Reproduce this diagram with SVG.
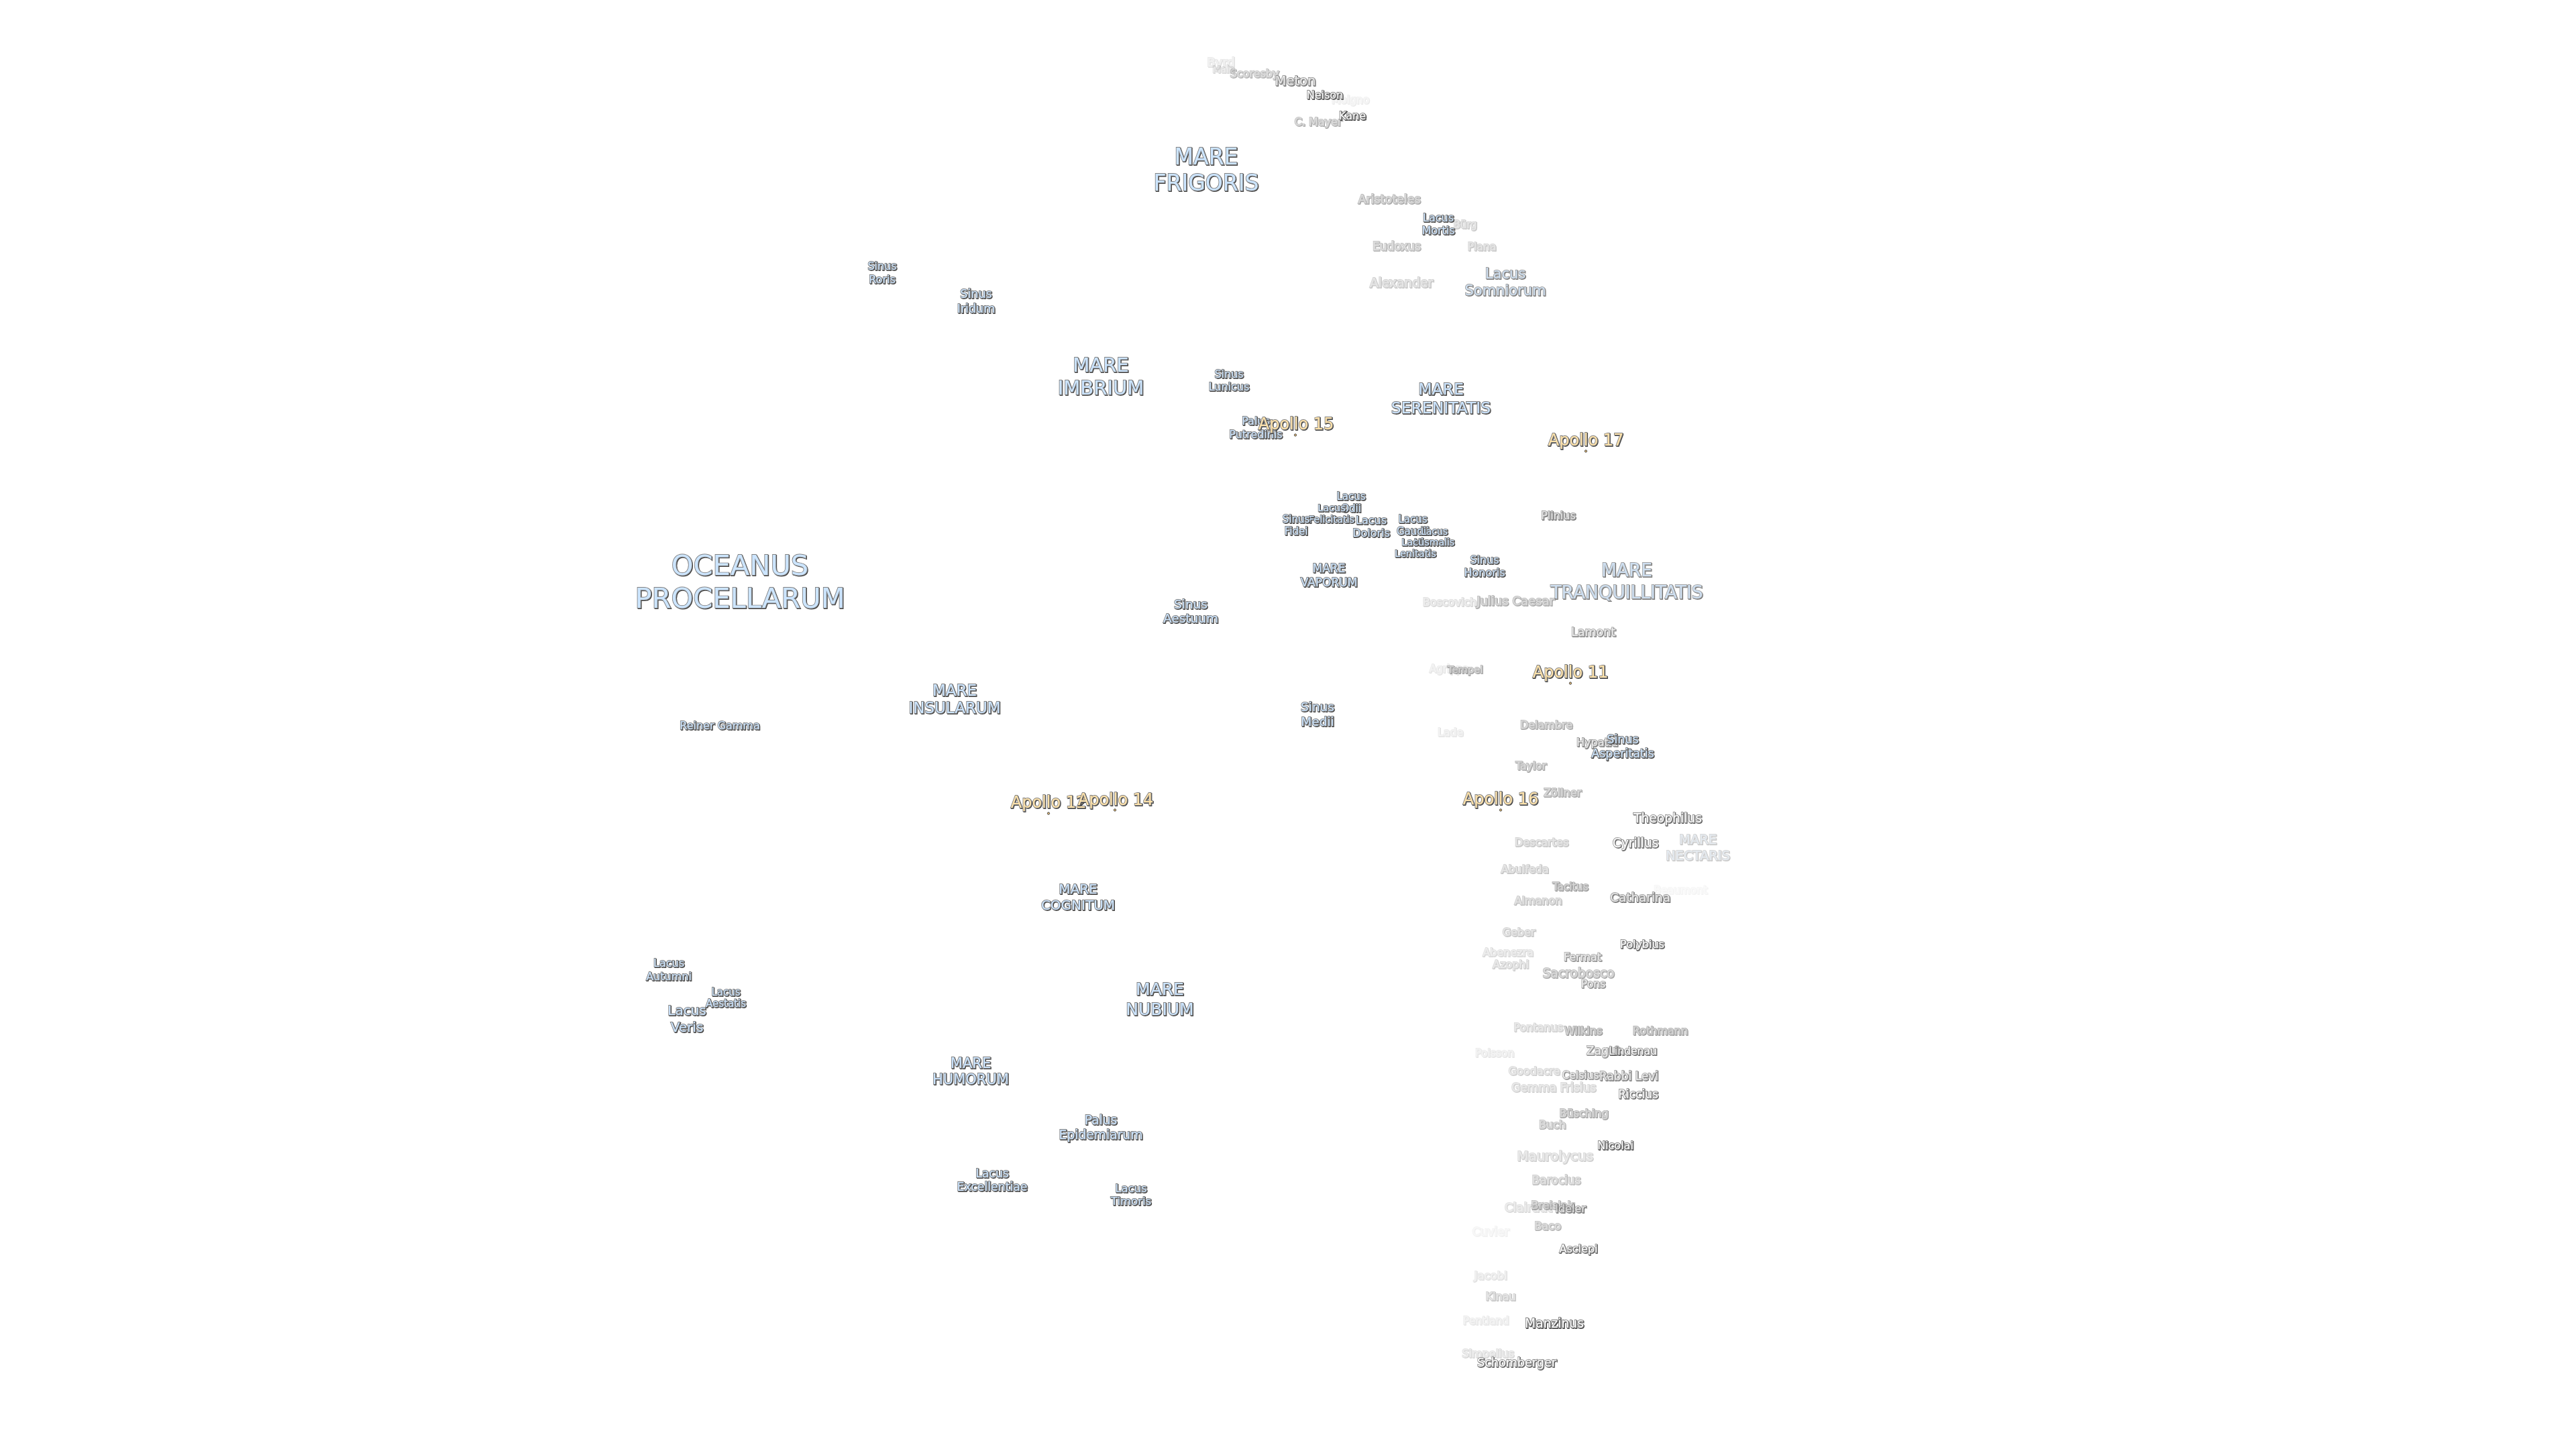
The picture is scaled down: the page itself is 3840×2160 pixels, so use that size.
<svg xmlns="http://www.w3.org/2000/svg" width="3840" height="2160" viewBox="0 0 3840 2160">
<defs>
<filter id="s" x="-20%" y="-40%" width="140%" height="180%"><feGaussianBlur in="SourceGraphic" stdDeviation="0.45" result="b"/><feOffset in="SourceAlpha" dx="1.4" dy="1.4"/><feGaussianBlur stdDeviation="0.5"/><feColorMatrix values="0 0 0 0 .05 0 0 0 0 .05 0 0 0 0 .05 0 0 0 1 0" result="d"/><feMerge><feMergeNode in="d"/><feMergeNode in="b"/></feMerge></filter>
</defs>
<style>
text{font-family:"DejaVu Sans",sans-serif;text-anchor:middle;stroke:#808080;stroke-width:1.8;paint-order:stroke;filter:url(#s)}
.m{fill:#cce5ff}
.n{fill:#a9bccf}
.t{fill:#bcd4ec}
.a{fill:#ffe3ab}
.c{fill:#fff}
.e{fill:#e2e2e2}
.f{fill:#b4b4b4}
circle{fill:#ffd080;stroke:#333;stroke-width:1}
</style>
<rect width="3840" height="2160" fill="#fff"/>
<g transform="translate(0,-0.5)">
<g id="byrd" opacity=".16"><text class="f" font-size="18" x="1820" y="99">Byrd</text></g>
<g id="main" opacity=".22"><text class="f" font-size="14" x="1824" y="108">Main</text></g>
<g id="scoresby" opacity=".42"><text class="f" font-size="16" x="1870" y="115">Scoresby</text></g>
<g id="meton" opacity=".75"><text class="e" font-size="19.5" x="1931" y="127">Meton</text></g>
<g id="neison" opacity=".95"><text class="c" font-size="16" x="1975" y="147">Neison</text></g>
<g id="moigno" opacity=".1"><text class="f" font-size="15.5" x="2013" y="154">Moigno</text></g>
<g id="c-mayer" opacity=".45"><text class="f" font-size="16" x="1965" y="187">C. Mayer</text></g>
<g id="kane"><text class="c" font-size="16" x="2016" y="178">Kane</text></g>
<g id="mare-frigoris"><text class="m" font-size="33"><tspan x="1798" y="245">MARE</tspan><tspan x="1798" y="284">FRIGORIS</tspan></text></g>
<g id="aristoteles" opacity=".48"><text class="f" font-size="17.5" x="2071" y="303">Aristoteles</text></g>
<g id="lacus-mortis"><text class="m" font-size="16"><tspan x="2144" y="330">Lacus</tspan><tspan x="2144" y="349">Mortis</tspan></text></g>
<g id="burg" opacity=".3"><text class="f" font-size="15" x="2184" y="340">Bürg</text></g>
<g id="eudoxus" opacity=".42"><text class="f" font-size="17" x="2082" y="373">Eudoxus</text></g>
<g id="plana" opacity=".32"><text class="f" font-size="15.6" x="2209" y="373">Plana</text></g>
<g id="alexander" opacity=".32"><text class="f" font-size="18.7" x="2089" y="428">Alexander</text></g>
<g id="lacus-somniorum" opacity=".72"><text class="t" font-size="21"><tspan x="2244" y="415">Lacus</tspan><tspan x="2244" y="440">Somniorum</tspan></text></g>
<g id="sinus-roris"><text class="m" font-size="16"><tspan x="1315" y="402">Sinus</tspan><tspan x="1315" y="422">Roris</tspan></text></g>
<g id="sinus-iridum"><text class="m" font-size="17.5"><tspan x="1455" y="444">Sinus</tspan><tspan x="1455" y="466">Iridum</tspan></text></g>
<g id="mare-imbrium"><text class="m" font-size="29"><tspan x="1641" y="554">MARE</tspan><tspan x="1641" y="588">IMBRIUM</tspan></text></g>
<g id="sinus-lunicus"><text class="m" font-size="16"><tspan x="1832" y="563">Sinus</tspan><tspan x="1832" y="582">Lunicus</tspan></text></g>
<g id="palus-putredinis"><text class="m" font-size="16"><tspan x="1872" y="633">Palus</tspan><tspan x="1872" y="653">Putredinis</tspan></text></g>
<g id="apollo-15"><text class="a" font-size="24" x="1932" y="640">Apollo 15</text><circle cx="1931" cy="649" r="1.6"/></g>
<g id="mare-serenitatis"><text class="m" font-size="23.5"><tspan x="2148" y="588">MARE</tspan><tspan x="2148" y="616">SERENITATIS</tspan></text></g>
<g id="apollo-17"><text class="a" font-size="24" x="2364" y="664">Apollo 17</text><circle cx="2364" cy="673" r="1.6"/></g>
<g id="lacus-odii"><text class="m" font-size="15"><tspan x="2014" y="745">Lacus</tspan><tspan x="2014" y="763">Odii</tspan></text></g>
<g id="lacus-felicitatis"><text class="m" font-size="14.5"><tspan x="1985" y="762">Lacus</tspan><tspan x="1985" y="779">Felicitatis</tspan></text></g>
<g id="sinus-fidei"><text class="m" font-size="15"><tspan x="1932" y="779">Sinus</tspan><tspan x="1932" y="797">Fidei</tspan></text></g>
<g id="lacus-doloris"><text class="m" font-size="16"><tspan x="2044" y="781">Lacus</tspan><tspan x="2044" y="800">Doloris</tspan></text></g>
<g id="lacus-gaudii"><text class="m" font-size="15"><tspan x="2106" y="779">Lacus</tspan><tspan x="2106" y="797">Gaudii</tspan></text></g>
<g id="lacus-hiemalis"><text class="m" font-size="14"><tspan x="2138" y="797">Lacus</tspan><tspan x="2138" y="813">Hiemalis</tspan></text></g>
<g id="lacus-lenitatis"><text class="m" font-size="14.5"><tspan x="2110" y="813">Lacus</tspan><tspan x="2110" y="830">Lenitatis</tspan></text></g>
<g id="sinus-honoris"><text class="m" font-size="16"><tspan x="2213" y="840">Sinus</tspan><tspan x="2213" y="859">Honoris</tspan></text></g>
<g id="plinius" opacity=".75"><text class="e" font-size="16" x="2323" y="774">Plinius</text></g>
<g id="mare-vaporum"><text class="m" font-size="17"><tspan x="1981" y="853">MARE</tspan><tspan x="1981" y="874">VAPORUM</tspan></text></g>
<g id="mare-tranquillitatis" opacity=".72"><text class="t" font-size="26.4"><tspan x="2425" y="859">MARE</tspan><tspan x="2425" y="892">TRANQUILLITATIS</tspan></text></g>
<g id="boscovich" opacity=".22"><text class="f" font-size="16" x="2161" y="903">Boscovich</text></g>
<g id="julius-caesar" opacity=".48"><text class="f" font-size="18" x="2259" y="902">Julius Caesar</text></g>
<g id="sinus-aestuum"><text class="m" font-size="18.5"><tspan x="1775" y="907">Sinus</tspan><tspan x="1775" y="928">Aestuum</tspan></text></g>
<g id="lamont" opacity=".65"><text class="e" font-size="17.5" x="2375" y="948">Lamont</text></g>
<g id="oceanus-procellarum"><text class="m" font-size="41.6"><tspan x="1103" y="857">OCEANUS</tspan><tspan x="1103" y="906">PROCELLARUM</tspan></text></g>
<g id="agrippa" opacity=".14"><text class="f" font-size="15" x="2160" y="1002">Agrippa</text></g>
<g id="tempel" opacity=".5"><text class="f" font-size="14.8" x="2184" y="1003">Tempel</text></g>
<g id="apollo-11"><text class="a" font-size="24" x="2341" y="1010">Apollo 11</text><circle cx="2341" cy="1019" r="1.6"/></g>
<g id="mare-insularum"><text class="m" font-size="23"><tspan x="1423" y="1037">MARE</tspan><tspan x="1423" y="1063">INSULARUM</tspan></text></g>
<g id="reiner-gamma"><text class="m" font-size="16" x="1073" y="1087">Reiner Gamma</text></g>
<g id="sinus-medii"><text class="m" font-size="18.5"><tspan x="1964" y="1060">Sinus</tspan><tspan x="1964" y="1082">Medii</tspan></text></g>
<g id="lade" opacity=".14"><text class="f" font-size="15.8" x="2162" y="1097">Lade</text></g>
<g id="delambre" opacity=".48"><text class="f" font-size="16" x="2305" y="1086">Delambre</text></g>
<g id="hypatia" opacity=".7"><text class="e" font-size="16" x="2381" y="1112">Hypatia</text></g>
<g id="sinus-asperitatis"><text class="m" font-size="17.5"><tspan x="2419" y="1108">Sinus</tspan><tspan x="2419" y="1129">Asperitatis</tspan></text></g>
<g id="taylor" opacity=".48"><text class="f" font-size="15.5" x="2282" y="1147">Taylor</text></g>
<g id="zollner" opacity=".48"><text class="f" font-size="16" x="2329" y="1187">Zöllner</text></g>
<g id="apollo-16"><text class="a" font-size="24" x="2237" y="1199">Apollo 16</text><circle cx="2237" cy="1208" r="1.6"/></g>
<g id="apollo-12"><text class="a" font-size="24" x="1563" y="1204">Apollo 12</text><circle cx="1563" cy="1213" r="1.6"/></g>
<g id="apollo-14"><text class="a" font-size="24" x="1663" y="1200">Apollo 14</text><circle cx="1662" cy="1208" r="1.6"/></g>
<g id="theophilus" opacity=".85"><text class="c" font-size="18.7" x="2486" y="1226">Theophilus</text></g>
<g id="cyrillus" opacity=".8"><text class="c" font-size="18.6" x="2438" y="1263">Cyrillus</text></g>
<g id="mare-nectaris" opacity=".3"><text class="n" font-size="19.5"><tspan x="2531" y="1258">MARE</tspan><tspan x="2531" y="1282">NECTARIS</tspan></text></g>
<g id="descartes" opacity=".32"><text class="f" font-size="16" x="2298" y="1261">Descartes</text></g>
<g id="abulfeda" opacity=".32"><text class="f" font-size="16" x="2273" y="1301">Abulfeda</text></g>
<g id="tacitus" opacity=".55"><text class="f" font-size="15.5" x="2341" y="1327">Tacitus</text></g>
<g id="almanon" opacity=".36"><text class="f" font-size="16" x="2293" y="1348">Almanon</text></g>
<g id="beaumont" opacity=".06"><text class="f" font-size="15.5" x="2505" y="1332">Beaumont</text></g>
<g id="catharina" opacity=".75"><text class="e" font-size="18.4" x="2445" y="1344">Catharina</text></g>
<g id="mare-cognitum"><text class="m" font-size="20"><tspan x="1607" y="1332">MARE</tspan><tspan x="1607" y="1356">COGNITUM</tspan></text></g>
<g id="geber" opacity=".32"><text class="f" font-size="16" x="2264" y="1395">Geber</text></g>
<g id="polybius" opacity=".85"><text class="c" font-size="16" x="2448" y="1413">Polybius</text></g>
<g id="fermat" opacity=".6"><text class="e" font-size="16" x="2359" y="1432">Fermat</text></g>
<g id="abenezra" opacity=".22"><text class="f" font-size="16" x="2248" y="1425">Abenezra</text></g>
<g id="azophi" opacity=".27"><text class="f" font-size="16" x="2252" y="1443">Azophi</text></g>
<g id="sacrobosco" opacity=".48"><text class="f" font-size="18.7" x="2353" y="1457">Sacrobosco</text></g>
<g id="pons" opacity=".6"><text class="e" font-size="15.6" x="2375" y="1472">Pons</text></g>
<g id="lacus-autumni"><text class="m" font-size="16"><tspan x="997" y="1441">Lacus</tspan><tspan x="997" y="1461">Autumni</tspan></text></g>
<g id="lacus-aestatis"><text class="m" font-size="15"><tspan x="1082" y="1484">Lacus</tspan><tspan x="1082" y="1501">Aestatis</tspan></text></g>
<g id="lacus-veris"><text class="m" font-size="20"><tspan x="1024" y="1513">Lacus</tspan><tspan x="1024" y="1538">Veris</tspan></text></g>
<g id="mare-nubium"><text class="m" font-size="25"><tspan x="1729" y="1483">MARE</tspan><tspan x="1729" y="1513">NUBIUM</tspan></text></g>
<g id="pontanus" opacity=".27"><text class="f" font-size="16" x="2293" y="1537">Pontanus</text></g>
<g id="wilkins" opacity=".55"><text class="f" font-size="16" x="2360" y="1542">Wilkins</text></g>
<g id="rothmann" opacity=".55"><text class="f" font-size="16" x="2475" y="1542">Rothmann</text></g>
<g id="zagut" opacity=".6"><text class="e" font-size="17" x="2390" y="1572">Zagut</text></g>
<g id="lindenau" opacity=".8"><text class="c" font-size="15.6" x="2434" y="1572">Lindenau</text></g>
<g id="poisson" opacity=".14"><text class="f" font-size="15.5" x="2228" y="1575">Poisson</text></g>
<g id="goodacre" opacity=".27"><text class="f" font-size="16" x="2287" y="1602">Goodacre</text></g>
<g id="celsius" opacity=".6"><text class="e" font-size="15.5" x="2356" y="1608">Celsius</text></g>
<g id="rabbi-levi" opacity=".7"><text class="e" font-size="17" x="2428" y="1610">Rabbi Levi</text></g>
<g id="mare-humorum"><text class="m" font-size="21"><tspan x="1447" y="1592">MARE</tspan><tspan x="1447" y="1616">HUMORUM</tspan></text></g>
<g id="gemma-frisius" opacity=".27"><text class="f" font-size="17" x="2316" y="1627">Gemma Frisius</text></g>
<g id="riccius" opacity=".8"><text class="c" font-size="17" x="2442" y="1637">Riccius</text></g>
<g id="busching" opacity=".5"><text class="f" font-size="16" x="2361" y="1665">Büsching</text></g>
<g id="palus-epidemiarum"><text class="m" font-size="18.7"><tspan x="1641" y="1676">Palus</tspan><tspan x="1641" y="1698">Epidemiarum</tspan></text></g>
<g id="buch" opacity=".42"><text class="f" font-size="16" x="2314" y="1682">Buch</text></g>
<g id="nicolai" opacity=".95"><text class="c" font-size="16" x="2408" y="1713">Nicolai</text></g>
<g id="maurolycus" opacity=".27"><text class="f" font-size="20" x="2318" y="1730">Maurolycus</text></g>
<g id="lacus-excellentiae"><text class="m" font-size="17.3"><tspan x="1479" y="1755">Lacus</tspan><tspan x="1479" y="1775">Excellentiae</tspan></text></g>
<g id="lacus-timoris"><text class="m" font-size="16.5"><tspan x="1686" y="1777">Lacus</tspan><tspan x="1686" y="1796">Timoris</tspan></text></g>
<g id="barocius" opacity=".37"><text class="f" font-size="17" x="2320" y="1765">Barocius</text></g>
<g id="clairaut" opacity=".22"><text class="f" font-size="18" x="2278" y="1806">Clairaut</text></g>
<g id="breislak" opacity=".45"><text class="f" font-size="16" x="2314" y="1802">Breislak</text></g>
<g id="ideler" opacity=".75"><text class="e" font-size="16" x="2341" y="1807">Ideler</text></g>
<g id="baco" opacity=".42"><text class="f" font-size="16" x="2307" y="1833">Baco</text></g>
<g id="cuvier" opacity=".08"><text class="f" font-size="17" x="2222" y="1842">Cuvier</text></g>
<g id="asclepi" opacity=".85"><text class="c" font-size="16" x="2353" y="1867">Asclepi</text></g>
<g id="jacobi" opacity=".17"><text class="f" font-size="16.5" x="2222" y="1907">Jacobi</text></g>
<g id="kinau" opacity=".32"><text class="f" font-size="16" x="2237" y="1938">Kinau</text></g>
<g id="pentland" opacity=".14"><text class="f" font-size="15.7" x="2215" y="1974">Pentland</text></g>
<g id="manzinus"><text class="c" font-size="18.7" x="2317" y="1979">Manzinus</text></g>
<g id="simpelius" opacity=".22"><text class="f" font-size="16" x="2218" y="2023">Simpelius</text></g>
<g id="schomberger" opacity=".85"><text class="c" font-size="17.6" x="2261" y="2037">Schomberger</text></g>
</g>
</svg>
